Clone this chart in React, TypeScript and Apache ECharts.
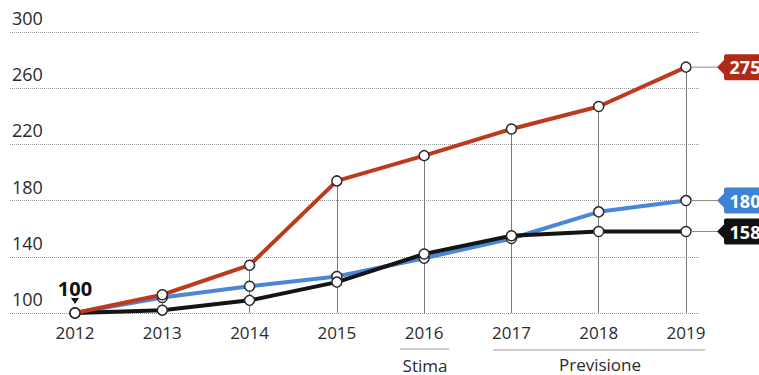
import React, { useEffect, useRef } from "react";
import * as echarts from "echarts";

const YEARS = [2012, 2013, 2014, 2015, 2016, 2017, 2018, 2019];
const RED = [100, 113, 134, 194, 212, 231, 247, 275];
const BLUE = [100, 111, 119, 126, 139, 153, 172, 180];
const BLACK = [100, 102, 109, 122, 142, 155, 158, 158];
const Y_TICKS = [100, 140, 180, 220, 260, 300];
const BASE_LABEL = "100";
const NOTE_STIMA = "Stima";
const NOTE_PREV = "Previsione";

const FONT = '"Open Sans", "Noto Sans", sans-serif';
const TAG_PATH =
  "path://M0,13 L7,6 L7,2 Q7,0 9,0 L48,0 Q50,0 50,2 L50,24 Q50,26 48,26 L9,26 Q7,26 7,24 L7,20 Z";

function tagPoints(values: number[], color: string) {
  const last = values.length - 1;
  const coord = [YEARS[last], values[last]];
  return [
    {
      coord,
      value: values[last],
      symbol: "rect",
      symbolSize: [27, 1],
      symbolOffset: [18, 0],
      itemStyle: { color: "#8a8a8a" },
      label: { show: false },
    },
    {
      coord,
      value: values[last],
      symbol: TAG_PATH,
      symbolSize: [50, 26],
      symbolOffset: [56, 0],
      itemStyle: { color },
      label: {
        show: true,
        position: "inside",
        offset: [3, 0],
        color: "#fff",
        fontWeight: "bold",
        fontSize: 18,
        fontFamily: FONT,
        formatter: "{c}",
      },
    },
  ];
}

export default function App() {
  const ref = useRef<HTMLDivElement>(null);
  useEffect(() => {
    if (!ref.current) return;
    const chart = echarts.init(ref.current, undefined, { renderer: "svg" });
    const pts = (vals: number[]) => YEARS.map((y, i) => [y, vals[i]]);
    const marker = {
      symbol: "circle",
      symbolSize: 10,
      itemStyle: { color: "#fff", borderColor: "#2a2a2a", borderWidth: 1.5 },
    };
    const yMin = Y_TICKS[0];
    const yMax = Y_TICKS[Y_TICKS.length - 1];
    const step = Y_TICKS[1] - Y_TICKS[0];
    chart.setOption({
      animation: false,
      backgroundColor: "#fff",
      textStyle: { fontFamily: FONT },
      grid: [
        { left: 10, right: 59, top: 32, bottom: 62 },
        { left: 75, right: 73, top: 32, bottom: 62 },
      ],
      xAxis: [
        { gridIndex: 0, type: "value", min: 0, max: 1, show: false },
        {
          gridIndex: 1,
          type: "value",
          min: YEARS[0],
          max: YEARS[YEARS.length - 1],
          interval: 1,
          axisLine: { show: false },
          axisTick: { show: false },
          splitLine: { show: false },
          axisLabel: {
            margin: 11,
            fontSize: 17,
            color: "#2a2a2a",
            fontFamily: FONT,
            formatter: (v: number) => String(v),
          },
        },
      ],
      yAxis: [
        {
          gridIndex: 0,
          type: "value",
          min: 0,
          max: yMax - yMin,
          interval: step,
          axisLine: { show: false },
          axisTick: { show: false },
          splitLine: {
            show: true,
            lineStyle: { color: "#9a9a9a", width: 1, type: "dotted" },
          },
          axisLabel: {
            inside: true,
            margin: 2,
            verticalAlign: "bottom",
            padding: [0, 0, 5, 0],
            fontSize: 18,
            color: "#2a2a2a",
            fontFamily: FONT,
            formatter: (_v: number, i: number) => String(Y_TICKS[i]),
          },
        },
        { gridIndex: 1, type: "value", min: yMin, max: yMax, show: false },
      ],
      series: [
        {
          type: "line",
          name: "blue",
          xAxisIndex: 1,
          yAxisIndex: 1,
          data: pts(BLUE),
          ...marker,
          lineStyle: { color: "#4a87d6", width: 4 },
          z: 3,
          markPoint: { z: 6, data: tagPoints(BLUE, "#3d82d4") },
        },
        {
          type: "line",
          name: "black",
          xAxisIndex: 1,
          yAxisIndex: 1,
          data: pts(BLACK),
          ...marker,
          lineStyle: { color: "#141414", width: 4 },
          z: 4,
          markPoint: {
            z: 6,
            data: [
              ...tagPoints(BLACK, "#111"),
              {
                coord: [YEARS[0], BLACK[0]],
                value: BLACK[0],
                symbol: "triangle",
                symbolRotate: 180,
                symbolSize: [8, 6],
                symbolOffset: [0, -12],
                itemStyle: { color: "#111" },
                label: {
                  show: true,
                  position: "top",
                  distance: 0,
                  color: "#111",
                  fontWeight: "bold",
                  fontSize: 20,
                  fontFamily: FONT,
                  formatter: BASE_LABEL,
                },
              },
            ],
          },
        },
        {
          type: "line",
          name: "red",
          xAxisIndex: 1,
          yAxisIndex: 1,
          data: pts(RED),
          ...marker,
          lineStyle: { color: "#bd3a1f", width: 4 },
          z: 5,
          markPoint: { z: 6, data: tagPoints(RED, "#b02a18") },
          markLine: {
            z: 1,
            silent: true,
            symbol: ["none", "none"],
            label: { show: false },
            lineStyle: { color: "#7a7a7a", width: 1, type: "solid" },
            data: YEARS.map((y, i) => [
              { coord: [y, Math.max(RED[i], BLUE[i], BLACK[i])] },
              { coord: [y, yMin] },
            ]),
          },
        },
      ],
      graphic: [
        {
          type: "line",
          shape: { x1: 400, y1: 349, x2: 449, y2: 349 },
          style: { stroke: "#9a9a9a", lineWidth: 1 },
        },
        {
          type: "text",
          x: 425,
          y: 365,
          style: {
            text: NOTE_STIMA,
            fill: "#2a2a2a",
            fontSize: 17,
            fontFamily: FONT,
            textAlign: "center",
            textVerticalAlign: "middle",
          },
        },
        {
          type: "line",
          shape: { x1: 493, y1: 350, x2: 705, y2: 350 },
          style: { stroke: "#9a9a9a", lineWidth: 1 },
        },
        {
          type: "text",
          x: 600,
          y: 364,
          style: {
            text: NOTE_PREV,
            fill: "#2a2a2a",
            fontSize: 17,
            fontFamily: FONT,
            textAlign: "center",
            textVerticalAlign: "middle",
          },
        },
      ],
    });
    return () => chart.dispose();
  }, []);
  return (
    <div
      ref={ref}
      style={{ position: "fixed", left: 0, top: 0, width: 759, height: 375 }}
    />
  );
}
